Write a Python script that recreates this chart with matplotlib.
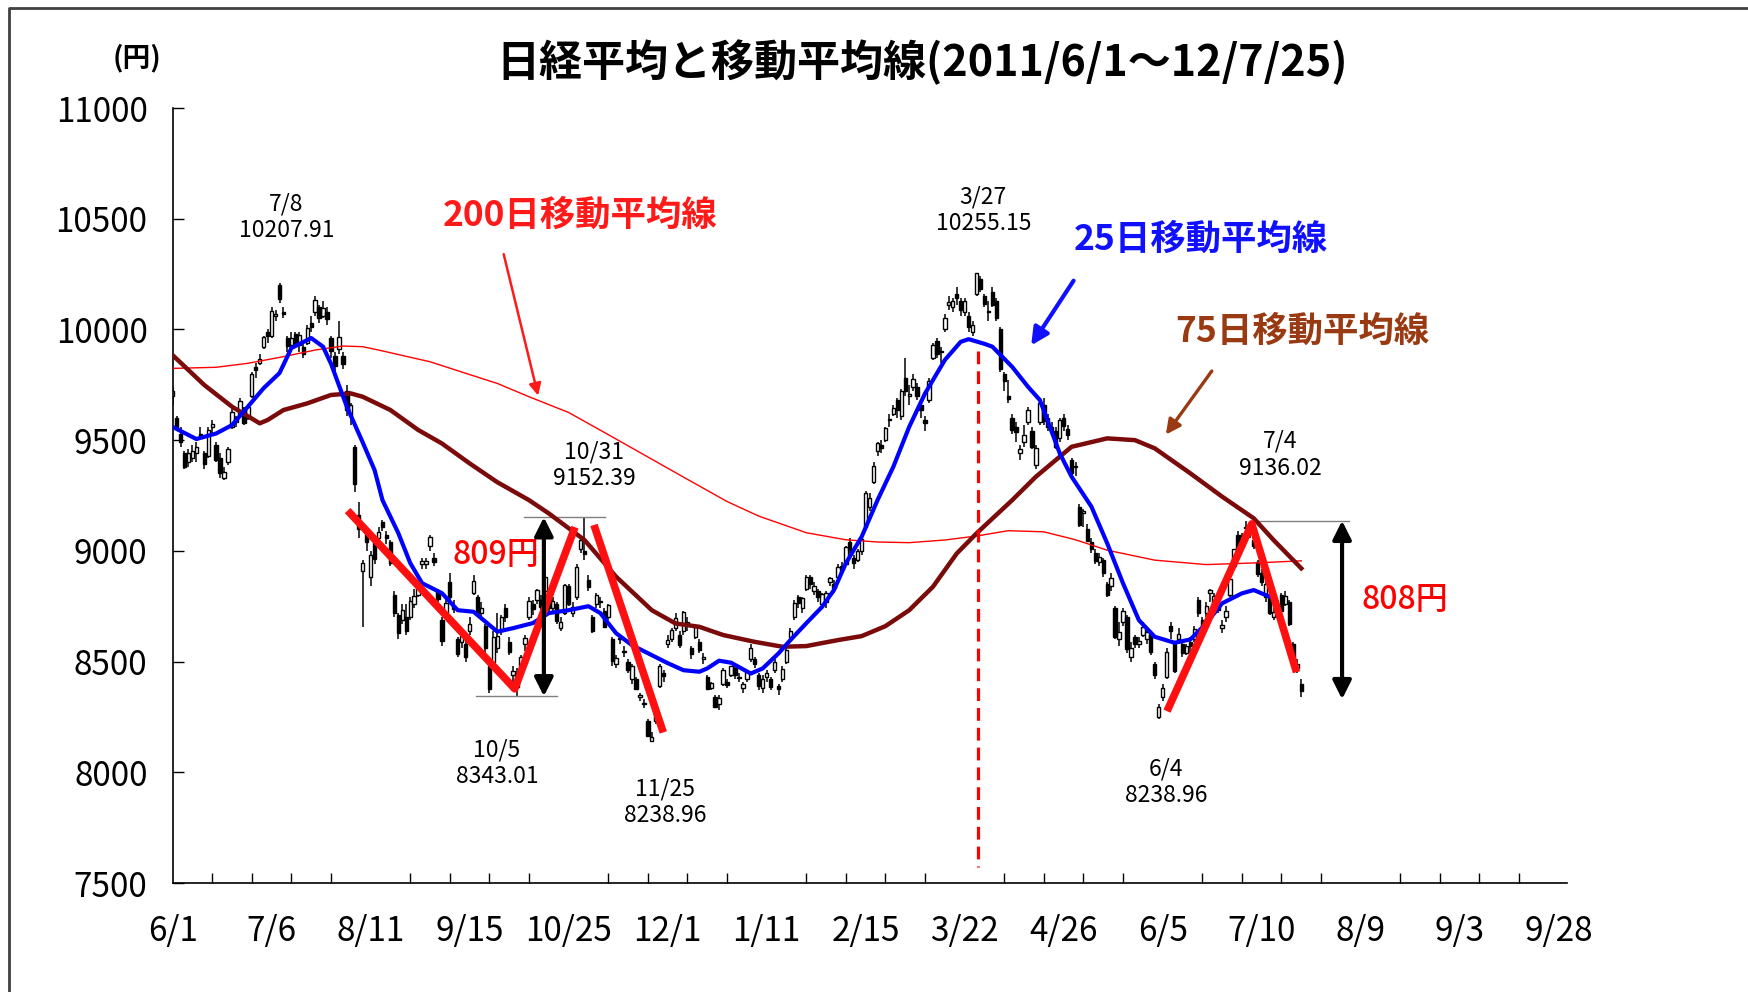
import numpy as np
import matplotlib
matplotlib.use("Agg")
import matplotlib.pyplot as plt
from matplotlib.lines import Line2D

plt.rcParams['font.family'] = ['Noto Sans CJK JP', 'DejaVu Sans']

# daily candles 2011/6/1 - 2012/7/25 (one entry per trading day)
opens = [9700, 9600, 9530, 9440, 9400, 9420, 9440, 9530, 9440, 9430, 9560, 9480, 9420, 9330, 9400, 9560, 9580, 9620, 9640, 9600,
         9700, 9830, 9850, 9920, 9990, 9970, 10060, 10200, 10080, 9960, 9930, 9980, 9930, 9920, 9940, 10030, 10080, 10100, 10060, 10080,
         9960, 9880, 9910, 9880, 9720, 9610, 9470, 9160, 8910, 9100, 8880, 9040, 9060, 9130, 9070, 9040, 8800, 8710, 8690, 8700,
         8700, 8760, 8800, 8940, 8940, 9020, 8970, 8820, 8690, 8720, 8860, 8750, 8600, 8590, 8580, 8640, 8810, 8790, 8720, 8660,
         8480, 8500, 8560, 8640, 8740, 8590, 8440, 8450, 8460, 8580, 8700, 8760, 8780, 8780, 8820, 8800, 8740, 8760, 8650, 8720,
         8840, 8720, 8790, 9010, 9000, 8870, 8700, 8760, 8770, 8730, 8700, 8600, 8490, 8600, 8550, 8500, 8420, 8420, 8340, 8310,
         8230, 8140, 8230, 8390, 8450, 8580, 8600, 8650, 8620, 8640, 8680, 8560, 8610, 8590, 8510, 8430, 8380, 8340, 8310, 8400,
         8410, 8440, 8470, 8430, 8380, 8420, 8510, 8510, 8440, 8380, 8430, 8420, 8460, 8390, 8420, 8500, 8610, 8700, 8790, 8740,
         8830, 8880, 8820, 8820, 8760, 8770, 8860, 8850, 8880, 8930, 8940, 9040, 8970, 8960, 9000, 9110, 9200, 9310, 9450, 9480,
         9500, 9590, 9620, 9680, 9610, 9780, 9700, 9740, 9740, 9660, 9590, 9680, 9870, 9950, 9900, 10000, 10110, 10100, 10160, 10130,
         10080, 10060, 9990, 10160, 10230, 10150, 10080, 10170, 10130, 10000, 9800, 9700, 9600, 9560, 9440, 9490, 9580, 9540, 9390, 9580,
         9660, 9600, 9560, 9540, 9510, 9600, 9550, 9410, 9380, 9200, 9170, 9100, 9040, 8990, 8950, 8960, 8850, 8840, 8740, 8600,
         8680, 8700, 8520, 8610, 8580, 8620, 8600, 8620, 8490, 8250, 8340, 8430, 8660, 8580, 8600, 8580, 8540, 8590, 8600, 8780,
         8690, 8720, 8810, 8760, 8760, 8650, 8700, 8800, 8930, 9070, 9020, 9110, 9100, 9050, 8950, 8900, 8790, 8800, 8700, 8740,
         8800, 8760, 8770, 8580, 8470, 8400]
highs = [9740, 9610, 9560, 9450, 9460, 9480, 9490, 9560, 9450, 9560, 9590, 9490, 9440, 9380, 9470, 9640, 9610, 9690, 9650, 9660,
         9810, 9850, 9890, 9970, 10000, 10100, 10090, 10208, 10100, 9970, 9990, 9990, 9990, 9940, 10020, 10060, 10150, 10110, 10130, 10100,
         9970, 9900, 10040, 9900, 9750, 9670, 9480, 9220, 8960, 9110, 9000, 9060, 9110, 9140, 9090, 9050, 8820, 8720, 8760, 8760,
         8790, 8830, 8870, 8970, 8970, 9070, 8990, 8830, 8700, 8790, 8900, 8780, 8610, 8640, 8600, 8700, 8890, 8800, 8770, 8670,
         8500, 8640, 8720, 8710, 8760, 8610, 8480, 8470, 8530, 8620, 8790, 8780, 8830, 8800, 8890, 8810, 8790, 8770, 8700, 8850,
         8850, 8770, 8940, 9060, 9152, 8890, 8710, 8810, 8790, 8740, 8760, 8610, 8530, 8620, 8570, 8510, 8490, 8430, 8360, 8330,
         8240, 8180, 8300, 8490, 8460, 8620, 8650, 8720, 8640, 8730, 8700, 8570, 8660, 8600, 8540, 8440, 8410, 8350, 8350, 8470,
         8420, 8480, 8480, 8450, 8410, 8460, 8580, 8520, 8450, 8440, 8460, 8430, 8520, 8400, 8480, 8560, 8650, 8780, 8800, 8790,
         8890, 8890, 8860, 8830, 8810, 8820, 8880, 8870, 8940, 8950, 9020, 9060, 8980, 9010, 9060, 9270, 9260, 9400, 9490, 9500,
         9560, 9620, 9660, 9690, 9730, 9870, 9750, 9800, 9760, 9680, 9610, 9780, 9940, 9960, 9920, 10070, 10150, 10140, 10190, 10140,
         10140, 10080, 10040, 10255, 10240, 10160, 10130, 10190, 10140, 10010, 9810, 9770, 9620, 9580, 9480, 9570, 9650, 9560, 9480, 9680,
         9690, 9620, 9580, 9560, 9600, 9620, 9570, 9420, 9400, 9210, 9190, 9120, 9060, 9010, 8990, 8970, 8860, 8900, 8750, 8680,
         8740, 8710, 8590, 8620, 8610, 8680, 8640, 8630, 8500, 8310, 8400, 8560, 8680, 8590, 8650, 8590, 8580, 8610, 8660, 8790,
         8700, 8770, 8830, 8810, 8780, 8690, 8750, 8880, 9010, 9090, 9080, 9136, 9120, 9060, 8960, 8920, 8870, 8810, 8740, 8780,
         8810, 8820, 8780, 8590, 8510, 8420]
lows = [9660, 9540, 9470, 9370, 9380, 9400, 9400, 9500, 9370, 9420, 9530, 9400, 9330, 9320, 9390, 9550, 9560, 9610, 9570, 9590,
        9690, 9780, 9840, 9910, 9940, 9960, 10040, 10120, 10050, 9900, 9920, 9920, 9900, 9870, 9930, 9990, 10060, 10030, 10050, 10020,
        9870, 9800, 9890, 9820, 9610, 9570, 9264, 9060, 8656, 9000, 8840, 8940, 9050, 9090, 9030, 8930, 8700, 8600, 8670, 8620,
        8690, 8740, 8790, 8920, 8920, 9000, 8930, 8770, 8570, 8700, 8780, 8720, 8520, 8560, 8500, 8620, 8800, 8700, 8700, 8540,
        8359, 8480, 8540, 8620, 8680, 8530, 8410, 8343, 8430, 8550, 8690, 8710, 8760, 8730, 8810, 8730, 8720, 8670, 8640, 8710,
        8750, 8700, 8780, 8990, 8960, 8820, 8630, 8740, 8740, 8650, 8690, 8480, 8470, 8580, 8520, 8450, 8400, 8370, 8320, 8290,
        8160, 8135, 8220, 8380, 8410, 8560, 8590, 8640, 8560, 8620, 8640, 8510, 8600, 8540, 8490, 8370, 8370, 8290, 8280, 8390,
        8380, 8430, 8420, 8410, 8360, 8410, 8500, 8470, 8370, 8360, 8410, 8370, 8450, 8350, 8410, 8490, 8600, 8690, 8740, 8720,
        8820, 8830, 8800, 8770, 8750, 8740, 8840, 8810, 8870, 8900, 8930, 8990, 8920, 8950, 8980, 9100, 9180, 9300, 9430, 9440,
        9490, 9560, 9610, 9600, 9590, 9700, 9660, 9720, 9680, 9600, 9540, 9670, 9860, 9870, 9850, 9990, 10090, 10080, 10110, 10060,
        10060, 9990, 9970, 10150, 10170, 10100, 10040, 10100, 10040, 9810, 9720, 9670, 9530, 9490, 9410, 9470, 9570, 9460, 9370, 9570,
        9570, 9540, 9520, 9460, 9490, 9540, 9500, 9330, 9340, 9110, 9110, 9040, 8990, 8940, 8930, 8880, 8790, 8820, 8600, 8570,
        8660, 8540, 8500, 8560, 8560, 8610, 8580, 8530, 8420, 8239, 8320, 8420, 8600, 8450, 8580, 8520, 8530, 8540, 8590, 8700,
        8630, 8700, 8770, 8740, 8720, 8630, 8680, 8790, 8920, 8990, 9000, 9090, 9060, 9010, 8880, 8840, 8770, 8710, 8690, 8730,
        8720, 8750, 8660, 8500, 8450, 8340]
closes = [9720, 9555, 9492, 9380, 9443, 9449, 9467, 9514, 9392, 9548, 9574, 9411, 9351, 9354, 9460, 9629, 9597, 9679, 9578, 9649,
          9797, 9816, 9868, 9965, 9972, 10082, 10071, 10138, 10070, 9926, 9963, 9936, 9974, 9890, 10006, 10010, 10132, 10050, 10098, 10047,
          9901, 9833, 9965, 9845, 9637, 9659, 9300, 9098, 8944, 9039, 8982, 8964, 9086, 9107, 9057, 8944, 8719, 8628, 8733, 8640,
          8772, 8798, 8851, 8954, 8955, 9061, 8951, 8784, 8591, 8763, 8793, 8738, 8536, 8617, 8519, 8669, 8864, 8721, 8741, 8560,
          8374, 8610, 8616, 8701, 8700, 8545, 8456, 8383, 8522, 8606, 8774, 8739, 8823, 8748, 8880, 8742, 8773, 8682, 8679, 8844,
          8762, 8748, 8927, 9050, 8988, 8836, 8640, 8801, 8767, 8656, 8755, 8501, 8514, 8604, 8542, 8463, 8480, 8375, 8348, 8315,
          8165, 8160, 8287, 8478, 8435, 8597, 8644, 8696, 8575, 8722, 8665, 8536, 8654, 8553, 8519, 8377, 8402, 8296, 8336, 8460,
          8395, 8479, 8441, 8424, 8399, 8455, 8560, 8489, 8390, 8422, 8448, 8386, 8500, 8378, 8466, 8551, 8640, 8766, 8766, 8785,
          8884, 8849, 8841, 8793, 8803, 8810, 8877, 8832, 8929, 8918, 9016, 9002, 8947, 8999, 9052, 9260, 9238, 9384, 9485, 9463,
          9554, 9596, 9647, 9634, 9723, 9723, 9707, 9777, 9699, 9638, 9576, 9769, 9930, 9890, 9899, 10051, 10123, 10130, 10142, 10086,
          10127, 10011, 10018, 10255, 10183, 10115, 10084, 10110, 10050, 9820, 9768, 9688, 9546, 9538, 9459, 9525, 9638, 9471, 9465, 9667,
          9588, 9561, 9542, 9468, 9591, 9562, 9521, 9351, 9380, 9119, 9182, 9045, 9010, 8953, 8974, 8901, 8801, 8877, 8611, 8633,
          8729, 8557, 8563, 8580, 8593, 8658, 8633, 8543, 8440, 8296, 8382, 8542, 8639, 8459, 8625, 8537, 8569, 8569, 8647, 8721,
          8656, 8752, 8824, 8798, 8735, 8664, 8730, 8873, 9007, 9003, 9067, 9104, 9080, 9021, 8897, 8858, 8851, 8721, 8724, 8755,
          8727, 8796, 8670, 8508, 8488, 8366]

# moving averages (day index, value)
ma25_x = [0, 6, 11, 15, 19, 23, 27, 30, 35, 38, 40, 44, 48, 51, 53, 57, 60, 63, 68, 72, 76, 82, 86, 91, 95, 100, 105, 108,
          112, 116, 121, 125, 129, 133, 135, 138, 141, 146, 149, 153, 156, 160, 164, 167, 170, 174, 178, 182, 186, 190, 195,
          199, 201, 205, 207, 212, 216, 219, 224, 227, 232, 236, 240, 244, 248, 253, 257, 261, 265, 270, 273, 277]
ma25_y = [9560, 9505, 9530, 9568, 9651, 9735, 9803, 9916, 9961, 9922, 9845, 9651, 9490, 9365, 9229, 9080, 8945, 8854, 8809,
          8732, 8725, 8635, 8651, 8674, 8719, 8732, 8750, 8719, 8628, 8574, 8529, 8493, 8461, 8454, 8469, 8504, 8495, 8446, 8469,
          8537, 8597, 8673, 8747, 8823, 8944, 9064, 9229, 9380, 9560, 9711, 9862, 9944, 9956, 9935, 9922, 9831, 9741, 9681, 9441,
          9335, 9200, 9034, 8853, 8687, 8612, 8585, 8600, 8672, 8763, 8808, 8823, 8793]
ma75_x = [0, 8, 15, 22, 24, 28, 34, 40, 45, 48, 55, 62, 68, 75, 82, 90, 95, 104, 112, 121, 127, 133, 139, 147, 154, 160, 168,
          174, 180, 186, 192, 198, 203, 212, 218, 227, 236, 243, 248, 257, 265, 273, 278, 285]
ma75_y = [9884, 9749, 9651, 9576, 9591, 9636, 9666, 9704, 9711, 9696, 9636, 9546, 9485, 9395, 9310, 9229, 9169, 9049, 8883,
          8732, 8672, 8657, 8620, 8589, 8567, 8570, 8597, 8615, 8660, 8732, 8838, 8988, 9079, 9229, 9335, 9470, 9508, 9500, 9463,
          9350, 9245, 9147, 9049, 8921]
ma200_x = [0, 11, 19, 28, 36, 43, 48, 52, 65, 74, 82, 90, 100, 110, 120, 130, 140, 148, 160, 170, 178, 186, 195, 203, 211,
           220, 228, 236, 248, 261, 274, 285]
ma200_y = [9824, 9829, 9847, 9877, 9907, 9925, 9922, 9907, 9854, 9802, 9756, 9696, 9625, 9525, 9424, 9323, 9223, 9157, 9082,
           9050, 9040, 9037, 9049, 9067, 9091, 9086, 9050, 9003, 8958, 8938, 8946, 8955]

tick_pos = [0, 25, 50, 75, 100, 125, 150, 175, 200, 225, 250, 275, 300, 325, 350]
tick_labels = ['6/1', '7/6', '8/11', '9/15', '10/25', '12/1', '1/11', '2/15', '3/22', '4/26', '6/5', '7/10',
               '8/9', '9/3', '9/28']

# chart pattern lines (index, price)
left_w_x = [44.2, 86.4, 101.6]
left_w_y = [9182, 8377, 9107]
left_dn_x = [106.4, 123.9]
left_dn_y = [9117, 8180]
right_w_x = [251.1, 272.5, 283.8]
right_w_y = [8276, 9122, 8452]

fig = plt.figure(figsize=(17.48, 9.92), dpi=100)
ax = fig.add_axes([172.6 / 1748, 1 - 883 / 992, (1567 - 172.6) / 1748, (883 - 108) / 992])

x = np.arange(len(closes))
o = np.array(opens)
c = np.array(closes)
up = c >= o
ax.vlines(x, lows, highs, color='black', lw=1.1, zorder=2)
body_bottom = np.minimum(o, c)
body_h = np.maximum(np.abs(c - o), 5)
ax.bar(x[up], body_h[up], bottom=body_bottom[up], width=0.85, color='white', edgecolor='black', lw=1.0, zorder=2.5)
ax.bar(x[~up], body_h[~up], bottom=body_bottom[~up], width=0.85, color='black', edgecolor='black', lw=1.0, zorder=2.5)

ax.plot(ma200_x, ma200_y, color='#ff0000', lw=1.0, zorder=3)
ax.plot(ma75_x, ma75_y, color='#7b0a0a', lw=3.2, zorder=3.1, solid_joinstyle='round')
ax.plot(ma25_x, ma25_y, color='#0000ff', lw=3.0, zorder=3.2, solid_joinstyle='round')

# red pattern lines
for px, py in [(left_w_x, left_w_y), (left_dn_x, left_dn_y), (right_w_x, right_w_y)]:
    ax.plot(px, py, color='#ff1010', lw=5.5, zorder=4, solid_capstyle='butt')

# dashed line at 3/27
ax.plot([203.3, 203.3], [9902, 7571], color='#ff0000', lw=2.3, ls=(0, (4, 2.2)), zorder=4)

# range guides
ax.plot([88.7, 109.2], [9152, 9152], color='#808080', lw=1.0, zorder=3)
ax.plot([76.6, 97.0], [8343, 8343], color='#808080', lw=1.0, zorder=3)
ax.plot([272.8, 297.0], [9136, 9136], color='#808080', lw=1.0, zorder=3)
dbl = dict(arrowstyle='<|-|>', color='black', lw=3.0, mutation_scale=28, shrinkA=0, shrinkB=0)
ax.annotate('', xy=(93.75, 9152), xytext=(93.75, 8343), arrowprops=dbl, zorder=5)
ax.annotate('', xy=(295.3, 9136), xytext=(295.3, 8330), arrowprops=dbl, zorder=5)

# labels
lab = dict(ha='center', va='center', fontsize=16.5, color='black', linespacing=1.2, zorder=6)
ax.text(28.7, 10505, '7/8\n10207.91', **lab)
ax.text(204.7, 10540, '3/27\n10255.15', **lab)
ax.text(106.4, 9388, '10/31\n9152.39', **lab)
ax.text(81.9, 8040, '10/5\n8343.01', **lab)
ax.text(124.4, 7864, '11/25\n8238.96', **lab)
ax.text(250.8, 7955, '6/4\n8238.96', **lab)
ax.text(279.6, 9434, '7/4\n9136.02', **lab)

ax.text(102.8, 10517, '200日移動平均線', ha='center', va='center', fontsize=25.5, fontweight='bold', color='#ff1a1a')
ax.text(259.6, 10406, '25日移動平均線', ha='center', va='center', fontsize=25.5, fontweight='bold', color='#1010ff')
ax.text(285.2, 9993, '75日移動平均線', ha='center', va='center', fontsize=25.5, fontweight='bold', color='#9a3a12')
ax.text(81.6, 8981, '809円', ha='center', va='center', fontsize=23, fontweight='medium', color='#ff0000')
ax.text(311.1, 8780, '808円', ha='center', va='center', fontsize=23, fontweight='medium', color='#ff0000')

ax.annotate('', xy=(92.3, 9701), xytext=(83.6, 10340),
            arrowprops=dict(arrowstyle='-|>', color='#ff1a1a', lw=1.8, mutation_scale=18, shrinkA=0, shrinkB=0))
ax.annotate('', xy=(216.8, 9928), xytext=(227.5, 10220),
            arrowprops=dict(arrowstyle='-|>', color='#1010ff', lw=3.0, mutation_scale=26, shrinkA=0, shrinkB=0))
ax.annotate('', xy=(250.8, 9525), xytext=(262.4, 9812),
            arrowprops=dict(arrowstyle='-|>', color='#9a3a12', lw=2.4, mutation_scale=22, shrinkA=0, shrinkB=0))

# axes styling
ax.set_xlim(0, 352.1)
ax.set_ylim(7500, 11000)
ax.set_yticks(np.arange(7500, 11001, 500))
ax.set_yticklabels([str(v) for v in range(7500, 11001, 500)])
ax.set_xticks(tick_pos)
ax.set_xticklabels(tick_labels)
ax.set_xticks(np.arange(10, 352, 10), minor=True)
ax.tick_params(axis='x', which='major', length=0, pad=22, labelsize=24)
ax.tick_params(axis='x', which='minor', direction='in', length=7, width=1)
ax.tick_params(axis='y', direction='in', length=8, width=1, pad=18, labelsize=24)
for s in ['top', 'right']:
    ax.spines[s].set_visible(False)
for s in ['left', 'bottom']:
    ax.spines[s].set_linewidth(1.2)

fig.text(922 / 1748, 1 - 62 / 992, '日経平均と移動平均線(2011/6/1～12/7/25)', ha='center', va='center',
         fontsize=31, fontweight='bold')
fig.text(137 / 1748, 1 - 58 / 992, '(円)', ha='center', va='center', fontsize=20, fontweight='bold')

# outer frame
fig.add_artist(Line2D([9 / 1748, 9 / 1748, 1], [0, 1 - 8 / 992, 1 - 8 / 992], transform=fig.transFigure,
                      color='#404040', lw=2))

fig.savefig('out.png', dpi=100)
